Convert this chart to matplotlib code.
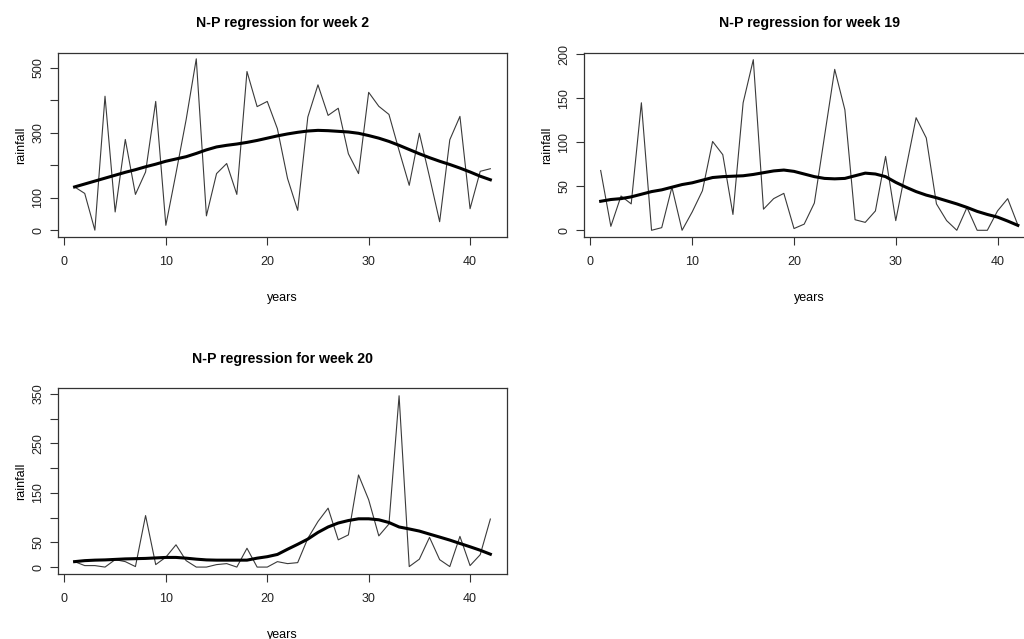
import matplotlib.pyplot as plt

plt.rcParams['font.family'] = ['Liberation Sans', 'DejaVu Sans']

# ============================================================
# Data
# ============================================================
years = list(range(1, 43))

# week 2 rainfall and its N-P regression fit
week2_rain = [133, 113, 0, 412, 56, 279, 110, 179, 396, 15,
              175, 340, 527, 44, 174, 205, 110, 488, 380, 396,
              312, 159, 61, 348, 447, 353, 375, 235, 174, 424,
              381, 356, 245, 138, 298, 164, 26, 278, 350, 66,
              181, 189]
week2_fit = [133, 142, 151, 160, 169, 178, 186, 195, 203, 212,
             219, 226, 236, 247, 256, 261, 265, 270, 276, 283,
             290, 296, 301, 305, 307, 306, 304, 302, 298, 291,
             283, 273, 261, 248, 235, 223, 212, 202, 191, 179,
             166, 155]

# week 19
week19_rain = [68, 4.5, 39, 30, 145, 0, 3, 49, 0, 21,
               45, 101, 86, 18, 145, 194, 24, 36, 42, 2,
               7, 31, 107, 183, 137, 12, 9, 22, 84, 11,
               70, 128, 105, 30, 11, 0, 26, 0, 0, 22,
               36, 6]
week19_fit = [33, 35, 36, 38, 41, 44, 46, 49, 52, 54,
              57, 60, 61, 61.5, 62, 63.5, 65.5, 67.5, 68.5, 67,
              64, 61, 59, 58.5, 59, 62, 65, 64, 61, 54.5,
              49, 44, 40, 37, 33.5, 30, 26, 21.5, 18, 15,
              10.5, 5.6]

# week 20
week20_rain = [11, 3, 3, 0, 15, 11, 1, 104, 5, 20,
               45, 13, 0, 0, 5, 7, 0, 38, 0, 0,
               11, 7, 9, 58, 92, 119, 55, 65, 186, 136,
               63, 87, 346, 1, 16, 60, 15, 1, 62, 3,
               25, 97]
week20_fit = [11, 13, 14, 14.5, 15.5, 16.5, 17, 17.5, 18.5, 19.5,
              19.5, 18, 16, 14.5, 14, 14, 14, 14, 18, 21,
              25.5, 36, 46, 56.5, 70, 81, 89, 94, 97.5, 97.5,
              95.5, 90, 81, 77, 72.7, 66.6, 60.6, 54.5, 47.7, 41,
              34, 26]

panels = [
    ("N-P regression for week 2", week2_rain, week2_fit,
     (-22, 546), range(0, 501, 100), [0, 100, 300, 500]),
    ("N-P regression for week 19", week19_rain, week19_fit,
     (-8, 202), range(0, 201, 50), [0, 50, 100, 150, 200]),
    ("N-P regression for week 20", week20_rain, week20_fit,
     (-14, 361), range(0, 351, 50), [0, 50, 150, 250, 350]),
]

# axes boxes in figure fractions [left, bottom, width, height]
boxes = [
    [0.0566, 0.6286, 0.4385, 0.2890],
    [0.5703, 0.6286, 0.4400, 0.2890],
    [0.0566, 0.1017, 0.4385, 0.2906],
]


def r_style_panel(ax, title, rain, fit, ylim, yticks, ylabels):
    ax.plot(years, rain, color='#3a3a3a', linewidth=0.8)
    ax.plot(years, fit, color='black', linewidth=2.2)

    ax.set_xlim(-0.64, 43.64)
    ax.set_ylim(*ylim)
    ax.set_xticks([0, 10, 20, 30, 40])
    ax.set_yticks(list(yticks))
    ax.set_yticklabels([str(t) if t in ylabels else "" for t in yticks],
                       rotation=90, va='center')

    ax.tick_params(direction='out', length=5.8, width=0.8, colors='#333333',
                   labelsize=9, labelcolor='#222222')
    ax.tick_params(axis='x', pad=8)
    ax.tick_params(axis='y', pad=4)
    for sp in ax.spines.values():
        sp.set_linewidth(0.9)
        sp.set_color('#333333')

    ax.set_title(title, fontsize=10.2, fontweight='bold', pad=18.5)
    ax.set_xlabel("years", fontsize=9, labelpad=17)
    ax.set_ylabel("rainfall", fontsize=9, labelpad=4)


fig = plt.figure(figsize=(10.24, 6.39), dpi=100)
for box, (title, rain, fit, ylim, yticks, ylabels) in zip(boxes, panels):
    ax = fig.add_axes(box)
    r_style_panel(ax, title, rain, fit, ylim, yticks, ylabels)

fig.savefig("out.png", dpi=100)
